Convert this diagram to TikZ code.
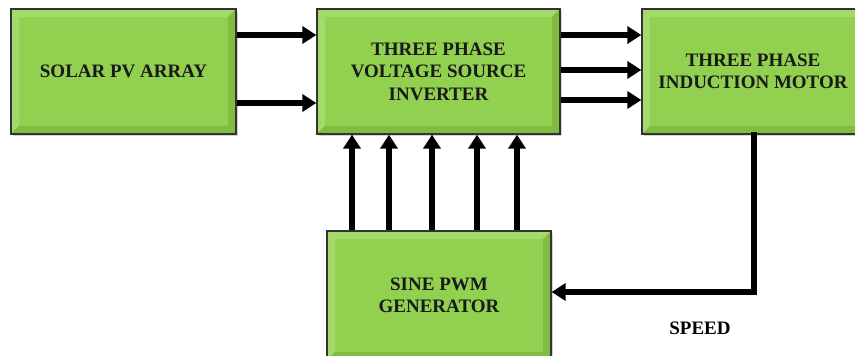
\documentclass[tikz,border=0pt]{standalone}
\usepackage{fontspec}
\setmainfont{Liberation Serif}
\usetikzlibrary{arrows.meta,shadows}
\definecolor{boxgreen}{HTML}{92D050}
\definecolor{bevlight}{HTML}{A4DA6C}
\definecolor{bevdark}{HTML}{80BC42}
\begin{document}
\begin{tikzpicture}[x=1pt,y=1pt,
    blk/.style={draw=black!80, line width=1.3pt, fill=boxgreen, minimum height=125pt,
        align=center, font=\fontsize{19}{22.5}\selectfont\bfseries, text=black!90,
        drop shadow={opacity=0.35, shadow xshift=2pt, shadow yshift=-2pt},
        path picture={
            \coordinate (nw) at (path picture bounding box.north west);
            \coordinate (se) at (path picture bounding box.south east);
            \fill[bevlight] (nw) -- (nw -| se) -- ([shift={(-8pt,-8pt)}]nw -| se) -- ([shift={(8pt,-8pt)}]nw) -- cycle;
            \fill[bevlight] (nw) -- (nw |- se) -- ([shift={(8pt,8pt)}]nw |- se) -- ([shift={(8pt,-8pt)}]nw) -- cycle;
            \fill[bevdark] (se) -- (se |- nw) -- ([shift={(-8pt,-8pt)}]se |- nw) -- ([shift={(-8pt,8pt)}]se) -- cycle;
            \fill[bevdark] (se) -- (se -| nw) -- ([shift={(8pt,8pt)}]se -| nw) -- ([shift={(-8pt,8pt)}]se) -- cycle;
        }},
    pwr/.style={line width=5.5pt, -{Triangle[length=14pt,width=17pt]}},
]
\useasboundingbox (0,0) rectangle (855,356);
\clip (0,0) rectangle (855,356);
% blocks
\node[blk, minimum width=225pt] (solar) at (123.5,284.5) {SOLAR PV ARRAY};
\node[blk, minimum width=243pt] (vsi) at (438.5,284.5) {THREE PHASE\\VOLTAGE SOURCE\\INVERTER};
\node[blk, minimum width=222pt] (motor) at (753,284.5) {THREE PHASE\\INDUCTION MOTOR};
\node[blk, minimum width=224pt, minimum height=129pt] (pwm) at (439,60.5) {SINE PWM\\GENERATOR};
% dc link
\draw[pwr] (solar.east |- 0,321) -- (vsi.west |- 0,321);
\draw[pwr] (solar.east |- 0,253) -- (vsi.west |- 0,253);
% three phases
\foreach \y in {321,286,256}
    \draw[pwr] (vsi.east |- 0,\y) -- (motor.west |- 0,\y);
% gate pulses
\foreach \x in {352,389,432,477,517}
    \draw[pwr] (pwm.north -| \x,0) -- (vsi.south -| \x,0);
% speed feedback
\coordinate (fb) at (754,64);
\draw[pwr, line cap=rect] (motor.south -| fb) |- (pwm.east |- fb);
\node[font=\fontsize{19}{21}\selectfont\bfseries] (speed) at (700,28) {SPEED};
\end{tikzpicture}
\end{document}
